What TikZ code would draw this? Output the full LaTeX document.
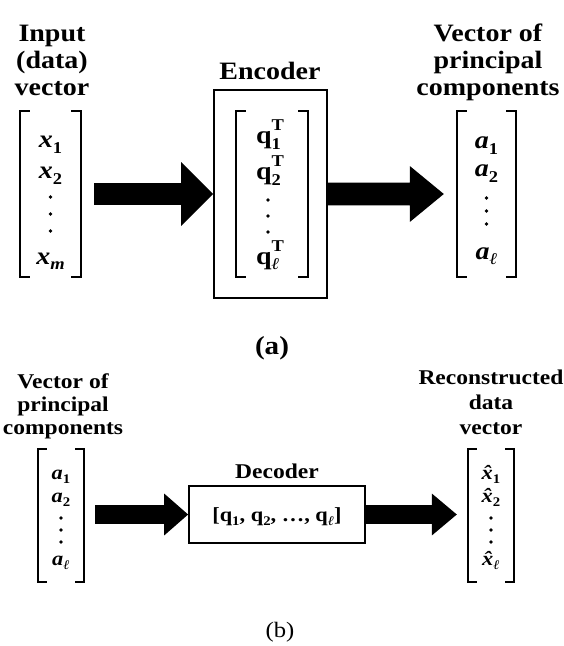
\documentclass[tikz,border=0pt]{standalone}
\usepackage{fontspec}
\setmainfont{Liberation Serif}[FakeStretch=1.12]
\usetikzlibrary{calc}
\makeatletter
\newcommand{\mysub}[1]{\raisebox{-0.22em}{\@tempdima=0.66\dimexpr\f@size pt\relax\fontsize{\the\@tempdima}{\the\@tempdima}\selectfont #1}}
\newcommand{\mysup}[1]{\raisebox{0.52em}{\@tempdima=0.66\dimexpr\f@size pt\relax\fontsize{\the\@tempdima}{\the\@tempdima}\selectfont #1}}
\makeatother
\newcommand{\ent}[2]{{\bfseries\itshape #1}\mysub{\bfseries #2}}
\newcommand{\qT}[1]{\textbf{q}\rlap{\mysub{\bfseries #1}}\mysup{\bfseries T}}
\newcommand{\hx}{{\bfseries\itshape x̂}}
\newcommand{\brackets}[2]{%
  \draw[brk] ([xshift=#2bp]#1.north west) -- (#1.north west) -- (#1.south west) -- ([xshift=#2bp]#1.south west);
  \draw[brk] ([xshift=-#2bp]#1.north east) -- (#1.north east) -- (#1.south east) -- ([xshift=-#2bp]#1.south east);}
\newcommand{\barrow}[5]{\fill[arrowfill] let \p1=#1, \p2=#2 in
  (\x1,\y1+#3) -- (\x2-#5,\y1+#3) -- (\x2-#5,\y1+#4) -- (\x2,\y1) -- (\x2-#5,\y1-#4) -- (\x2-#5,\y1-#3) -- (\x1,\y1-#3) -- cycle;}
\tikzset{
  lbla/.style={font=\fontsize{25bp}{27bp}\selectfont\bfseries, inner sep=0, anchor=base},
  lblb/.style={font=\fontsize{21bp}{23bp}\selectfont\bfseries, inner sep=0, anchor=base},
  enta/.style={font=\fontsize{25bp}{27bp}\selectfont, inner sep=0, anchor=base},
  entb/.style={font=\fontsize{20bp}{22bp}\selectfont, inner sep=0, anchor=base},
  vec/.style 2 args={minimum width=#1bp, minimum height=#2bp, inner sep=0, draw=none},
  brk/.style={line width=2.5bp, line join=miter},
  boxx/.style={draw, line width=1.8bp, inner sep=0},
  arrowfill/.style={fill=black},
  vdot/.style={circle, fill=black, inner sep=0, minimum size=3.6bp},
}
\begin{document}
\begin{tikzpicture}[x=1bp, y=-1bp]
\fill[white] (0,0) rectangle (564,646);
\useasboundingbox (0,0) rectangle (564,646);

% ---------------- (a) ----------------
\node[lbla] (inl1) at (52,42) {Input};
\node[lbla] (inl2) at (52,69) {(data)};
\node[lbla] (inl3) at (52,96) {vector};
\node[lbla] (encl) at (270,80) {Encoder};
\node[lbla] (pcl1) at (488,42) {Vector of};
\node[lbla] (pcl2) at (488,69) {principal};
\node[lbla] (pcl3) at (488,96) {components};

\node[vec={61}{166}] (xin) at (50.5,194) {};
\node[boxx, minimum width=113bp, minimum height=208bp] (enc) at (270.5,194) {};
\node[vec={72}{166}] (qin) at (272,194) {};
\node[vec={59}{166}] (aout) at (486.5,194) {};
\brackets{xin}{10}
\brackets{qin}{10}
\brackets{aout}{10}

\node[enta] (x1) at (50.5,148) {\ent{x}{1}};
\node[enta] (x2) at (50.5,179) {\ent{x}{2}};
\node[vdot] (xd1) at (50.5,197) {};
\node[vdot] (xd2) at (50.5,214) {};
\node[vdot] (xd3) at (50.5,231) {};
\node[enta] (xm) at (50.5,264) {\ent{x}{\itshape m}};

\node[enta] (q1) at (270,144) {\qT{1}};
\node[enta] (q2) at (270,180) {\qT{2}};
\node[vdot] (qd1) at (268,200) {};
\node[vdot] (qd2) at (268,216) {};
\node[vdot] (qd3) at (268,232) {};
\node[enta] (ql) at (270,264) {\qT{\itshape ℓ}};

\node[enta] (a1) at (486.5,149) {\ent{a}{1}};
\node[enta] (a2) at (486.5,177) {\ent{a}{2}};
\node[vdot] (ad1) at (486.5,198) {};
\node[vdot] (ad2) at (486.5,211) {};
\node[vdot] (ad3) at (486.5,224) {};
\node[enta] (al) at (486.5,259) {\ent{a}{\itshape ℓ}};

\barrow{($(xin.east)+(13,0)$)}{(enc.west)}{11}{32}{32}
\barrow{(enc.east)}{($(aout.west)+(-13,0)$)}{11.5}{28}{34}

\node[lbla, font=\fontsize{26bp}{28bp}\selectfont\bfseries] (capa) at (272,354) {(a)};

% ---------------- (b) ----------------
\node[lblb] (pbl1) at (63,388) {Vector of};
\node[lblb] (pbl2) at (63,411) {principal};
\node[lblb] (pbl3) at (63,434) {components};
\node[lblb] (decl) at (277,478) {Decoder};
\node[lblb] (rcl1) at (491,384) {Reconstructed};
\node[lblb] (rcl2) at (491,409) {data};
\node[lblb] (rcl3) at (491,434) {vector};

\node[vec={46}{133}] (bin) at (61,515.5) {};
\node[boxx, minimum width=176bp, minimum height=57bp] (dec) at (277,514.5) {};
\node[vec={46}{133}] (bout) at (491,515.5) {};
\brackets{bin}{9}
\brackets{bout}{9}

\node[lblb, font=\fontsize{20bp}{22bp}\selectfont\bfseries] (dect) at (277,521) {[\textbf{q}\mysub{\bfseries 1}, \textbf{q}\mysub{\bfseries 2}, \dots, \textbf{q}\mysub{\bfseries\itshape ℓ}]};

\node[entb] (ba1) at (61,479) {\ent{a}{1}};
\node[entb] (ba2) at (61,502) {\ent{a}{2}};
\node[vdot] (bad1) at (61,518) {};
\node[vdot] (bad2) at (61,530) {};
\node[vdot] (bad3) at (61,542) {};
\node[entb] (bal) at (61,565) {\ent{a}{\itshape ℓ}};

\node[entb] (hx1) at (491,479) {\hx\mysub{\bfseries 1}};
\node[entb] (hx2) at (491,502) {\hx\mysub{\bfseries 2}};
\node[vdot] (hxd1) at (491,518) {};
\node[vdot] (hxd2) at (491,530) {};
\node[vdot] (hxd3) at (491,542) {};
\node[entb] (hxl) at (491,565) {\hx\mysub{\bfseries\itshape ℓ}};

\barrow{($(bin.east|-dec.west)+(11,0)$)}{(dec.west)}{9.5}{21}{24}
\barrow{(dec.east)}{($(bout.west|-dec.east)+(-11,0)$)}{9.5}{21}{25}

\node[font=\fontsize{22bp}{24bp}\selectfont, inner sep=0, anchor=base] (capb) at (280,637) {(b)};
\end{tikzpicture}
\end{document}
